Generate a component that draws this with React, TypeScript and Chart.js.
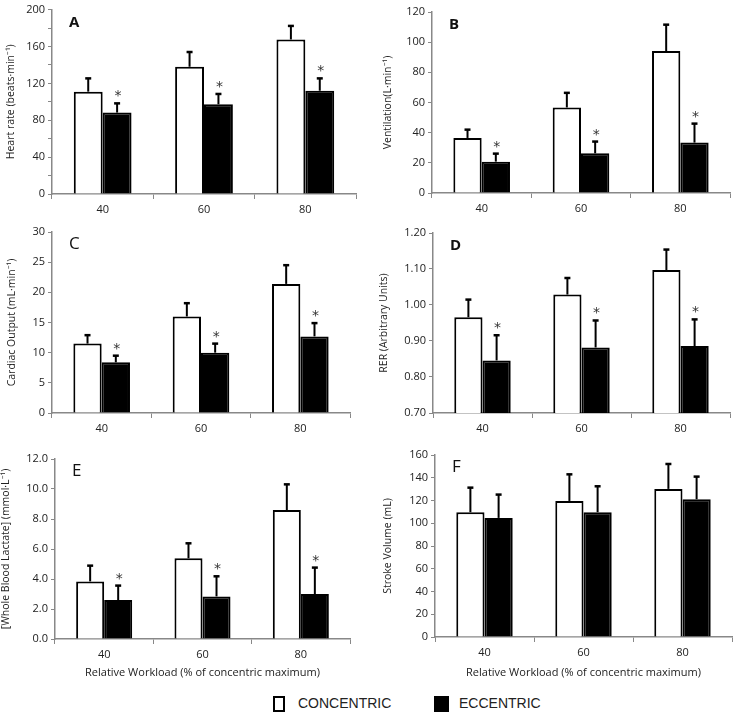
import React, { useEffect, useRef } from 'react';
import { Chart, registerables } from 'chart.js';

Chart.register(...registerables);
Chart.defaults.font.family = '"Open Sans", sans-serif';
Chart.defaults.color = '#222';

const categories = ['40', '60', '80'];

// A - Heart rate
const hrConcentric = [111, 138, 167.6];
const hrConcentricSd = [14.4, 16, 14.7];
const hrEccentric = [88.3, 97.3, 112];
const hrEccentricSd = [10, 11.2, 13.4];

// B - Ventilation
const veConcentric = [36.5, 56.7, 94.1];
const veConcentricSd = [5.5, 9.7, 17.5];
const veEccentric = [20.8, 26.3, 33.4];
const veEccentricSd = [5.3, 7.8, 12.6];

// C - Cardiac output
const coConcentric = [11.5, 16.0, 21.4];
const coConcentricSd = [1.4, 2.2, 3.1];
const coEccentric = [8.4, 10.0, 12.7];
const coEccentricSd = [1.1, 1.5, 2.2];

// D - RER
const rerConcentric = [0.966, 1.029, 1.097];
const rerConcentricSd = [0.049, 0.046, 0.057];
const rerEccentric = [0.846, 0.882, 0.886];
const rerEccentricSd = [0.07, 0.075, 0.074];

// E - Lactate
const laConcentric = [3.84, 5.38, 8.6];
const laConcentricSd = [1.05, 1.0, 1.71];
const laEccentric = [2.6, 2.84, 3.0];
const laEccentricSd = [0.96, 1.34, 1.76];

// F - Stroke volume
const svConcentric = [109.7, 119.6, 130.2];
const svConcentricSd = [21.6, 23.4, 21.9];
const svEccentric = [104.7, 109.7, 121.1];
const svEccentricSd = [20.5, 22.8, 19.9];

const xTitle = 'Relative Workload (% of concentric maximum)';

type PanelCfg = {
  letter: string;
  bold: boolean;
  yTitle: string;
  conc: number[];
  concSd: number[];
  ecc: number[];
  eccSd: number[];
  stars: boolean;
  min: number;
  max: number;
  step: number;
  labelEvery?: number;
  decimals: number;
  x: number; y: number; w: number; h: number;
  yW: number; padTop: number; padRight: number; xH: number;
  yTitlePad: number;
  showXTitle: boolean;
};

const panels: PanelCfg[] = [
  { letter: 'A', bold: true, yTitle: 'Heart rate (beats·min⁻¹)', conc: hrConcentric, concSd: hrConcentricSd, ecc: hrEccentric, eccSd: hrEccentricSd, stars: true,
    min: 0, max: 200, step: 20, labelEvery: 40, decimals: 0,
    x: 0, y: 0, w: 366, h: 222, yW: 52, padTop: 9, padRight: 10, xH: 28, yTitlePad: 5, showXTitle: false },
  { letter: 'B', bold: true, yTitle: 'Ventilation(L·min⁻¹)', conc: veConcentric, concSd: veConcentricSd, ecc: veEccentric, eccSd: veEccentricSd, stars: true,
    min: 0, max: 120, step: 20, decimals: 0,
    x: 370, y: 0, w: 367, h: 222, yW: 62, padTop: 12, padRight: 7, xH: 29, yTitlePad: 12, showXTitle: false },
  { letter: 'C', bold: false, yTitle: 'Cardiac Output (mL·min⁻¹)', conc: coConcentric, concSd: coConcentricSd, ecc: coEccentric, eccSd: coEccentricSd, stars: true,
    min: 0, max: 30, step: 5, decimals: 0,
    x: 0, y: 222, w: 366, h: 222, yW: 52, padTop: 10, padRight: 16, xH: 31, yTitlePad: 6, showXTitle: false },
  { letter: 'D', bold: true, yTitle: 'RER (Arbitrary Units)', conc: rerConcentric, concSd: rerConcentricSd, ecc: rerEccentric, eccSd: rerEccentricSd, stars: true,
    min: 0.7, max: 1.2, step: 0.1, decimals: 2,
    x: 370, y: 222, w: 367, h: 222, yW: 63, padTop: 11, padRight: 7, xH: 31, yTitlePad: 8, showXTitle: false },
  { letter: 'E', bold: false, yTitle: '[Whole Blood Lactate] (mmol·L⁻¹)', conc: laConcentric, concSd: laConcentricSd, ecc: laEccentric, eccSd: laEccentricSd, stars: true,
    min: 0, max: 12, step: 2, decimals: 1,
    x: 0, y: 444, w: 366, h: 240, yW: 55, padTop: 15, padRight: 16, xH: 45, yTitlePad: 0, showXTitle: true },
  { letter: 'F', bold: false, yTitle: 'Stroke Volume (mL)', conc: svConcentric, concSd: svConcentricSd, ecc: svEccentric, eccSd: svEccentricSd, stars: false,
    min: 0, max: 160, step: 20, decimals: 0,
    x: 370, y: 444, w: 367, h: 240, yW: 65, padTop: 11, padRight: 5, xH: 47, yTitlePad: 12, showXTitle: true },
];

function makeOverlay(p: PanelCfg) {
  return {
    id: 'overlay' + p.letter,
    afterDatasetsDraw(chart: any) {
      const ctx = chart.ctx;
      const yScale = chart.scales.y;
      const sds = [p.concSd, p.eccSd];
      ctx.save();
      ctx.strokeStyle = '#000';
      ctx.lineWidth = 2;
      [0, 1].forEach((di) => {
        const meta = chart.getDatasetMeta(di);
        const data = chart.data.datasets[di].data as number[];
        meta.data.forEach((bar: any, i: number) => {
          const v = data[i];
          const yBar = yScale.getPixelForValue(v);
          const yTop = yScale.getPixelForValue(v + sds[di][i]);
          ctx.beginPath();
          ctx.moveTo(bar.x, yBar);
          ctx.lineTo(bar.x, yTop);
          ctx.stroke();
          ctx.beginPath();
          ctx.lineWidth = 2.5;
          ctx.moveTo(bar.x - 3, yTop);
          ctx.lineTo(bar.x + 3, yTop);
          ctx.stroke();
          ctx.lineWidth = 2;
          if (di === 1 && p.stars) {
            ctx.fillStyle = '#333';
            ctx.font = '14px "DejaVu Sans", sans-serif';
            ctx.textAlign = 'center';
            ctx.textBaseline = 'alphabetic';
            ctx.fillText('*', bar.x + 1, yTop - 3);
          }
        });
      });
      const area = chart.chartArea;
      ctx.fillStyle = '#111';
      ctx.textAlign = 'left';
      ctx.textBaseline = 'alphabetic';
      ctx.font = (p.bold ? 'bold 15px ' : '17px ') + '"Open Sans", sans-serif';
      ctx.fillText(p.letter, area.left + 17, area.top + 17);
      ctx.restore();
    },
  };
}

function Panel({ p }: { p: PanelCfg }) {
  const ref = useRef<HTMLCanvasElement | null>(null);
  useEffect(() => {
    if (!ref.current) return;
    const chart = new Chart(ref.current, {
      type: 'bar',
      data: {
        labels: categories,
        datasets: [
          { label: 'CONCENTRIC', data: p.conc, backgroundColor: '#ffffff', borderColor: '#000000', borderWidth: 2, categoryPercentage: 0.57, barPercentage: 1 },
          { label: 'ECCENTRIC', data: p.ecc, backgroundColor: '#000000', borderColor: '#000000', borderWidth: 2, categoryPercentage: 0.57, barPercentage: 1 },
        ],
      },
      options: {
        animation: false,
        responsive: false,
        maintainAspectRatio: false,
        layout: { padding: { top: p.padTop, right: p.padRight, left: 0, bottom: 0 } },
        plugins: { legend: { display: false }, tooltip: { enabled: false } },
        scales: {
          x: {
            ticks: { padding: 4, color: '#222', font: { size: 11 } },
            grid: { drawOnChartArea: false, drawTicks: true, tickLength: 5, color: '#888', offset: true },
            border: { color: '#888', width: 1.5 },
            title: { display: p.showXTitle, text: xTitle, color: '#222', font: { size: 11 }, padding: { top: 0, bottom: 5 } },
            afterFit: (s: any) => { s.height = p.xH; },
          },
          y: {
            min: p.min,
            max: p.max,
            ticks: {
              stepSize: p.step,
              padding: 3,
              color: '#222',
              font: { size: 11 },
              callback: (v: any) => {
                const n = Number(v);
                if (p.labelEvery && Math.abs(n % p.labelEvery) > 1e-6) return '';
                return n.toFixed(p.decimals);
              },
            },
            grid: { drawOnChartArea: false, drawTicks: true, tickLength: 4, color: '#888' },
            border: { color: '#888', width: 1.5 },
            title: { display: true, text: p.yTitle, color: '#222', font: { size: 10.5 }, padding: { top: p.yTitlePad, bottom: 0 } },
            afterFit: (s: any) => { s.width = p.yW; },
          },
        },
      } as any,
      plugins: [makeOverlay(p)],
    });
    return () => chart.destroy();
  }, [p]);
  return (
    <canvas
      ref={ref}
      width={p.w}
      height={p.h}
      style={{ position: 'absolute', left: p.x, top: p.y, width: p.w, height: p.h }}
    />
  );
}

export default function App() {
  const legendText: React.CSSProperties = {
    position: 'absolute',
    top: 695,
    fontFamily: '"Liberation Sans", Arial, sans-serif',
    fontSize: 14,
    lineHeight: '17px',
    color: '#222',
  };
  return (
    <div style={{ position: 'absolute', left: 0, top: 0, width: 737, height: 718, background: '#fff', overflow: 'hidden' }}>
      {panels.map((p) => (
        <Panel key={p.letter} p={p} />
      ))}
      <div style={{ position: 'absolute', left: 273, top: 696, width: 8, height: 12, border: '2px solid #000', background: '#fff' }} />
      <div style={{ ...legendText, left: 298 }}>CONCENTRIC</div>
      <div style={{ position: 'absolute', left: 434, top: 696, width: 15, height: 16, background: '#000' }} />
      <div style={{ ...legendText, left: 459 }}>ECCENTRIC</div>
    </div>
  );
}
